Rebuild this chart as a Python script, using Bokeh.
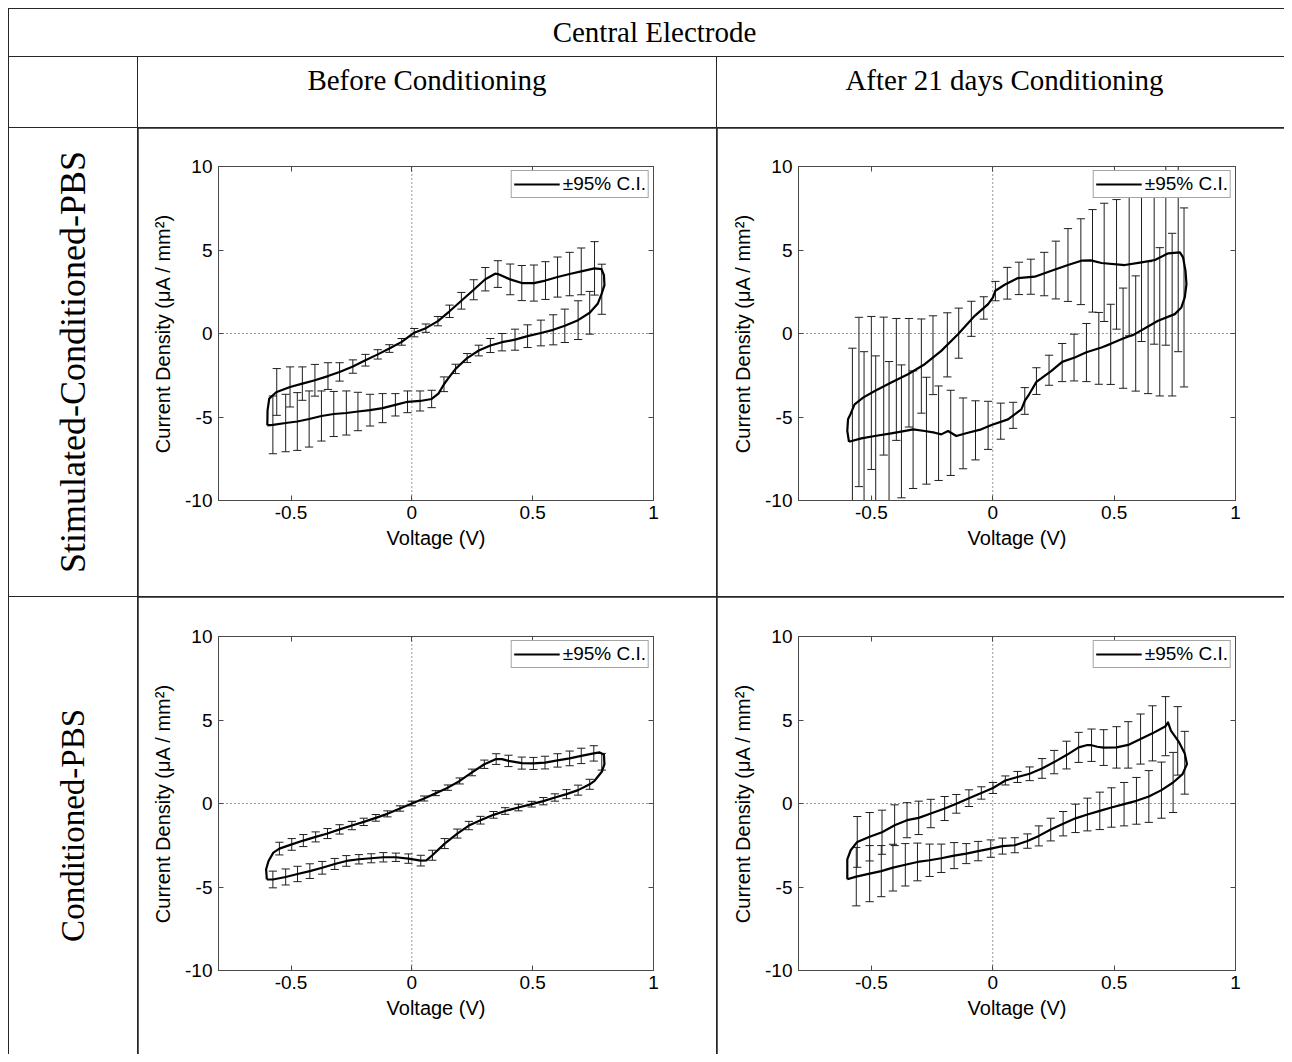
import numpy as np
from bokeh.plotting import figure
from bokeh.models import (Range1d, LinearAxis, FixedTicker, Span, Legend, LegendItem,
                          CustomJSTickFormatter, Div)
from bokeh.layouts import column, row
from bokeh.embed import file_html
from bokeh.resources import INLINE

# ---------------- text of the table ----------------
TITLE = "Central Electrode"
COL_HEADERS = ["Before Conditioning", "After 21 days Conditioning"]
ROW_HEADERS = ["Stimulated-Conditioned-PBS", "Conditioned-PBS"]
X_LABEL = "Voltage (V)"
Y_LABEL = "Current Density (\u03bcA / mm\u00b2)"
LEGEND_LABEL = "\u00b195% C.I."
X_TICKS = [-0.5, 0, 0.5, 1]
Y_TICKS = [-10, -5, 0, 5, 10]

# ---------------- top-left: Stimulated-Conditioned-PBS, before ----------------
TL_UP_V = [-0.598, -0.597, -0.590, -0.575, -0.559, -0.504, -0.453, -0.401, -0.347, -0.299, -0.244, -0.192,
           -0.141, -0.093, -0.042, 0.010, 0.058, 0.108, 0.156, 0.205, 0.256, 0.304, 0.345, 0.356, 0.407,
           0.455, 0.505, 0.553, 0.603, 0.653, 0.701, 0.756, 0.785, 0.795]
TL_UP_I = [-5.50, -4.60, -3.90, -3.70, -3.50, -3.20, -3.00, -2.80, -2.55, -2.30, -1.98, -1.60, -1.25, -0.90,
           -0.50, 0.05, 0.32, 0.74, 1.33, 1.96, 2.62, 3.25, 3.58, 3.56, 3.24, 3.02, 3.02, 3.17, 3.38, 3.56,
           3.72, 3.90, 3.85, 3.50]
TL_DN_V = [0.797, 0.786, 0.770, 0.736, 0.688, 0.633, 0.585, 0.534, 0.479, 0.427, 0.373, 0.325, 0.277, 0.229,
           0.181, 0.153, 0.133, 0.110, 0.082, 0.034, -0.018, -0.068, -0.121, -0.173, -0.223, -0.271, -0.323,
           -0.374, -0.425, -0.474, -0.522, -0.575, -0.598]
TL_DN_I = [2.90, 2.40, 1.80, 1.24, 0.80, 0.46, 0.22, 0.03, -0.16, -0.37, -0.52, -0.72, -1.02, -1.47, -2.12,
           -2.64, -3.04, -3.60, -3.92, -4.04, -4.09, -4.27, -4.47, -4.59, -4.67, -4.76, -4.82, -4.94, -5.12,
           -5.27, -5.36, -5.47, -5.50]
TL_BU_V = [-0.559, -0.504, -0.453, -0.401, -0.347, -0.299, -0.244, -0.192, -0.141, -0.093, -0.042, 0.010,
           0.058, 0.108, 0.156, 0.205, 0.256, 0.304, 0.356, 0.407, 0.455, 0.505, 0.553, 0.603, 0.653, 0.701, 0.756]
TL_BU_C = [-3.50, -3.20, -3.00, -2.80, -2.55, -2.30, -1.98, -1.60, -1.25, -0.90, -0.50, 0.05, 0.32, 0.74,
           1.33, 1.96, 2.62, 3.25, 3.56, 3.24, 3.02, 3.02, 3.17, 3.38, 3.56, 3.72, 3.90]
TL_BU_H = [1.40, 1.20, 1.00, 0.95, 0.80, 0.55, 0.40, 0.35, 0.28, 0.23, 0.20, 0.25, 0.25, 0.28, 0.37, 0.50,
           0.60, 0.70, 0.80, 0.92, 1.05, 1.08, 1.13, 1.20, 1.30, 1.40, 1.60]
TL_BD_V = [-0.575, -0.522, -0.474, -0.425, -0.374, -0.323, -0.271, -0.223, -0.173, -0.121, -0.068, -0.018,
           0.034, 0.082, 0.133, 0.181, 0.229, 0.277, 0.325, 0.373, 0.427, 0.479, 0.534, 0.585, 0.633, 0.688,
           0.736, 0.786]
TL_BD_C = [-5.47, -5.36, -5.27, -5.12, -4.94, -4.82, -4.76, -4.67, -4.59, -4.47, -4.27, -4.09, -4.04, -3.92,
           -3.04, -2.12, -1.47, -1.02, -0.72, -0.52, -0.37, -0.16, 0.03, 0.22, 0.46, 0.80, 1.24, 2.65]
TL_BD_H = [1.73, 1.72, 1.73, 1.68, 1.50, 1.35, 1.32, 1.15, 0.95, 0.87, 0.67, 0.65, 0.60, 0.52, 0.44, 0.28,
           0.27, 0.32, 0.42, 0.52, 0.63, 0.68, 0.77, 0.90, 1.00, 1.16, 1.28, 1.50]

# ---------------- top-right: Stimulated-Conditioned-PBS, after 21 days ----------------
TR_UP_V = [-0.592, -0.599, -0.596, -0.585, -0.569, -0.534, -0.486, -0.418, -0.349, -0.280, -0.212, -0.143,
           -0.074, -0.019, 0.001, 0.011, 0.049, 0.104, 0.173, 0.242, 0.310, 0.365, 0.404, 0.448, 0.544, 0.613,
           0.668, 0.723, 0.771, 0.784, 0.794, 0.798]
TR_UP_I = [-6.48, -5.84, -5.14, -4.80, -4.24, -3.84, -3.44, -2.94, -2.44, -1.84, -1.04, -0.04, 1.06, 1.76,
           2.16, 2.56, 2.92, 3.32, 3.40, 3.76, 4.10, 4.36, 4.38, 4.22, 4.10, 4.26, 4.40, 4.80, 4.86, 4.56,
           3.76, 2.96]
TR_DN_V = [0.791, 0.777, 0.750, 0.681, 0.585, 0.537, 0.486, 0.448, 0.386, 0.338, 0.286, 0.242, 0.180, 0.150,
           0.132, 0.118, 0.063, -0.005, -0.047, -0.102, -0.150, -0.184, -0.212, -0.239, -0.280, -0.328,
           -0.349, -0.418, -0.486, -0.541, -0.592]
TR_DN_I = [2.16, 1.56, 1.16, 0.76, -0.04, -0.30, -0.62, -0.84, -1.12, -1.44, -1.70, -2.24, -2.90, -3.64,
           -4.04, -4.54, -5.14, -5.48, -5.74, -5.94, -6.14, -5.84, -6.04, -5.94, -5.84, -5.74, -5.80, -5.98,
           -6.14, -6.28, -6.48]
TR_BU_V = [-0.551, -0.500, -0.449, -0.397, -0.345, -0.294, -0.246, -0.187, -0.140, -0.088, -0.037, 0.011,
           0.060, 0.108, 0.157, 0.212, 0.260, 0.310, 0.363, 0.411, 0.459, 0.510, 0.562, 0.613, 0.665, 0.713, 0.764]
TR_BU_C = [-4.10, -3.56, -3.15, -2.75, -2.35, -1.95, -1.30, -0.68, 0.02, 0.88, 1.53, 2.54, 3.01, 3.30, 3.40,
           3.56, 3.80, 4.10, 4.30, 4.35, 4.26, 4.14, 4.12, 4.22, 4.40, 4.80, 4.86]
TR_BU_H = [5.07, 4.58, 4.13, 3.65, 3.25, 2.82, 2.36, 1.92, 1.50, 1.05, 0.67, 0.58, 0.95, 0.97, 1.05, 1.30,
           1.73, 2.18, 2.57, 3.07, 3.54, 3.88, 4.26, 4.70, 5.04, 5.50, 5.95]
TR_BD_V = [-0.578, -0.530, -0.482, -0.427, -0.376, -0.328, -0.273, -0.223, -0.173, -0.122, -0.071, -0.019,
           0.033, 0.084, 0.132, 0.180, 0.232, 0.286, 0.335, 0.386, 0.437, 0.486, 0.537, 0.589, 0.640, 0.688,
           0.739, 0.788]
TR_BD_C = [-6.45, -6.35, -6.15, -5.98, -5.86, -5.76, -5.82, -5.97, -5.95, -5.98, -5.80, -5.50, -5.25, -4.90,
           -4.04, -2.85, -2.20, -1.74, -1.44, -1.14, -0.89, -0.65, -0.28, 0.00, 0.35, 0.70, 1.13, 2.16]
TR_BD_H = [5.57, 5.26, 4.81, 4.30, 3.98, 3.52, 3.20, 2.83, 2.55, 2.12, 1.77, 1.44, 1.08, 0.78, 0.80, 0.80,
           0.90, 1.14, 1.40, 1.74, 2.15, 2.40, 3.00, 3.45, 3.95, 4.44, 4.87, 5.36]

# ---------------- bottom-left: Conditioned-PBS, before ----------------
BL_UP_V = [-0.600, -0.603, -0.593, -0.573, -0.548, -0.497, -0.449, -0.398, -0.349, -0.299, -0.248, -0.199,
           -0.149, -0.101, -0.049, 0.000, 0.051, 0.099, 0.149, 0.198, 0.249, 0.300, 0.349, 0.373, 0.400,
           0.455, 0.503, 0.551, 0.603, 0.653, 0.701, 0.753, 0.777, 0.795, 0.797]
BL_UP_I = [-4.55, -3.94, -3.44, -2.94, -2.70, -2.45, -2.22, -2.00, -1.80, -1.55, -1.32, -1.10, -0.86, -0.62,
           -0.30, 0.00, 0.30, 0.62, 0.95, 1.35, 1.86, 2.35, 2.66, 2.66, 2.55, 2.42, 2.40, 2.45, 2.58, 2.70,
           2.85, 3.00, 3.06, 2.92, 2.36]
BL_DN_V = [0.786, 0.756, 0.736, 0.688, 0.640, 0.592, 0.544, 0.496, 0.441, 0.386, 0.338, 0.284, 0.236, 0.188,
           0.136, 0.085, 0.060, 0.037, -0.014, -0.066, -0.118, -0.168, -0.219, -0.271, -0.319, -0.371,
           -0.422, -0.473, -0.522, -0.575, -0.600]
BL_DN_I = [1.90, 1.36, 1.15, 0.80, 0.56, 0.36, 0.14, -0.04, -0.24, -0.45, -0.68, -1.00, -1.32, -1.80, -2.40,
           -3.10, -3.40, -3.42, -3.30, -3.22, -3.22, -3.28, -3.34, -3.44, -3.62, -3.85, -4.05, -4.22, -4.40,
           -4.55, -4.55]
BL_BU_V = [-0.548, -0.497, -0.449, -0.398, -0.349, -0.299, -0.248, -0.199, -0.149, -0.101, -0.049, 0.000,
           0.051, 0.099, 0.149, 0.198, 0.249, 0.300, 0.349, 0.400, 0.455, 0.503, 0.551, 0.603, 0.653, 0.701,
           0.753, 0.786]
BL_BU_C = [-2.70, -2.45, -2.22, -2.00, -1.80, -1.55, -1.32, -1.10, -0.86, -0.62, -0.30, 0.00, 0.30, 0.62,
           0.95, 1.35, 1.86, 2.35, 2.66, 2.55, 2.42, 2.40, 2.45, 2.58, 2.70, 2.85, 3.00, 2.50]
BL_BU_H = [0.38, 0.35, 0.36, 0.30, 0.30, 0.28, 0.25, 0.22, 0.20, 0.18, 0.16, 0.14, 0.15, 0.15, 0.16, 0.18,
           0.20, 0.25, 0.32, 0.34, 0.36, 0.36, 0.38, 0.40, 0.44, 0.46, 0.46, 0.50]
BL_BD_V = [-0.575, -0.522, -0.473, -0.422, -0.371, -0.319, -0.271, -0.219, -0.168, -0.118, -0.066, -0.014,
           0.037, 0.085, 0.136, 0.188, 0.236, 0.284, 0.338, 0.386, 0.441, 0.496, 0.544, 0.592, 0.640, 0.688, 0.736]
BL_BD_C = [-4.55, -4.40, -4.22, -4.05, -3.85, -3.62, -3.44, -3.34, -3.28, -3.22, -3.22, -3.30, -3.42, -3.10,
           -2.40, -1.80, -1.32, -1.00, -0.68, -0.45, -0.24, -0.04, 0.14, 0.36, 0.56, 0.80, 1.15]
BL_BD_H = [0.50, 0.48, 0.46, 0.44, 0.38, 0.33, 0.32, 0.28, 0.27, 0.28, 0.25, 0.28, 0.32, 0.30, 0.30, 0.27,
           0.25, 0.23, 0.20, 0.20, 0.20, 0.17, 0.22, 0.22, 0.27, 0.30, 0.30]

# ---------------- bottom-right: Conditioned-PBS, after 21 days ----------------
BR_UP_V = [-0.599, -0.599, -0.585, -0.558, -0.507, -0.456, -0.404, -0.353, -0.305, -0.255, -0.198, -0.150,
           -0.098, -0.047, 0.001, 0.052, 0.102, 0.152, 0.203, 0.253, 0.304, 0.354, 0.390, 0.407, 0.431, 0.457,
           0.510, 0.558, 0.609, 0.658, 0.712, 0.722, 0.734, 0.768, 0.791, 0.800]
BR_UP_I = [-4.54, -3.34, -2.80, -2.30, -1.99, -1.72, -1.30, -1.00, -0.86, -0.60, -0.30, -0.02, 0.32, 0.63,
           0.93, 1.38, 1.59, 1.78, 2.10, 2.48, 2.90, 3.36, 3.50, 3.49, 3.40, 3.35, 3.36, 3.51, 3.86, 4.20,
           4.63, 4.86, 4.36, 3.66, 3.00, 2.36]
BR_DN_V = [0.782, 0.743, 0.695, 0.643, 0.592, 0.541, 0.489, 0.441, 0.390, 0.341, 0.290, 0.239, 0.190, 0.143,
           0.091, 0.040, -0.008, -0.060, -0.109, -0.159, -0.212, -0.260, -0.310, -0.360, -0.411, -0.459,
           -0.507, -0.562, -0.599]
BR_DN_I = [1.76, 1.26, 0.80, 0.42, 0.16, -0.04, -0.24, -0.44, -0.66, -0.89, -1.21, -1.56, -1.94, -2.25,
           -2.50, -2.55, -2.70, -2.85, -3.00, -3.12, -3.28, -3.40, -3.50, -3.67, -3.84, -4.05, -4.20, -4.38, -4.54]
BR_BU_V = [-0.558, -0.507, -0.456, -0.404, -0.353, -0.305, -0.255, -0.198, -0.150, -0.098, -0.047, 0.001,
           0.052, 0.102, 0.152, 0.203, 0.253, 0.304, 0.354, 0.407, 0.457, 0.510, 0.558, 0.609, 0.658, 0.712,
           0.762, 0.791]
BR_BU_C = [-2.30, -1.99, -1.72, -1.30, -1.00, -0.86, -0.60, -0.30, -0.02, 0.32, 0.63, 0.93, 1.38, 1.59,
           1.78, 2.10, 2.48, 2.90, 3.36, 3.49, 3.35, 3.36, 3.51, 3.86, 4.20, 4.63, 3.75, 2.44]
BR_BU_H = [1.52, 1.45, 1.32, 1.22, 1.05, 1.00, 0.85, 0.72, 0.56, 0.50, 0.37, 0.33, 0.27, 0.33, 0.41, 0.59,
           0.70, 0.83, 0.90, 0.97, 1.07, 1.24, 1.39, 1.50, 1.65, 1.77, 2.05, 1.88]
BR_BD_V = [-0.562, -0.507, -0.459, -0.411, -0.360, -0.310, -0.260, -0.212, -0.159, -0.109, -0.060, -0.008,
           0.040, 0.091, 0.143, 0.190, 0.239, 0.290, 0.341, 0.390, 0.441, 0.489, 0.541, 0.592, 0.643, 0.695, 0.743]
BR_BD_C = [-4.38, -4.20, -4.05, -3.84, -3.67, -3.50, -3.40, -3.28, -3.12, -3.00, -2.85, -2.70, -2.55, -2.50,
           -2.25, -1.94, -1.56, -1.21, -0.89, -0.66, -0.44, -0.24, -0.04, 0.16, 0.42, 0.80, 1.26]
BR_BD_H = [1.75, 1.68, 1.53, 1.40, 1.27, 1.13, 0.97, 0.85, 0.78, 0.60, 0.58, 0.52, 0.48, 0.45, 0.43, 0.60,
           0.68, 0.73, 0.85, 0.98, 1.12, 1.18, 1.30, 1.40, 1.55, 1.68, 1.80]

# ---------------- styling ----------------
SERIF = "'Liberation Serif', 'Times New Roman', serif"
SANS = "Liberation Sans"
LINE_COL = "#262626"
FRAME_COL = "#4a4a4a"
CAP_HALF = 0.017   # half width of error-bar caps (volts, ~4px)


def header_cell(w, h, txt="", shift=0, top=9, size=29):
    html = ""
    if txt:
        html = (f'<div style="width:{w}px;margin:0;padding:{top}px 0 0 {2 * shift if shift > 0 else 0}px;'
                f'padding-right:{-2 * shift if shift < 0 else 0}px;box-sizing:border-box;text-align:center;'
                f'font-family:{SERIF};font-size:{size}px;line-height:{size}px;color:black;'
                f'white-space:nowrap;">{txt}</div>')
    return Div(text=html, width=w, height=h, margin=0,
               styles={"background-color": "white", "overflow": "hidden"})


def row_label_cell(w, h, txt, size):
    html = (f'<div style="width:{w}px;height:{h}px;display:flex;align-items:center;'
            f'justify-content:center;">'
            f'<span style="writing-mode:vertical-rl;transform:rotate(180deg);font-family:{SERIF};'
            f'font-size:{size}px;line-height:{size}px;color:black;white-space:nowrap;">{txt}</span></div>')
    return Div(text=html, width=w, height=h, margin=0,
               styles={"background-color": "white", "overflow": "hidden"})


def style_axis(ax):
    ax.axis_line_color = FRAME_COL
    ax.major_tick_line_color = FRAME_COL
    ax.major_tick_in = 5
    ax.major_tick_out = 0
    ax.minor_tick_line_color = None
    ax.major_label_text_font = SANS
    ax.major_label_text_font_size = "19px"
    ax.major_label_text_color = "black"
    ax.axis_label_text_font = SANS
    ax.axis_label_text_font_size = "20px"
    ax.axis_label_text_font_style = "normal"
    ax.axis_label_text_color = "black"


def cv_panel(w, h, bl, br, bt, bb, up_v, up_i, dn_v, dn_i, bu_v, bu_c, bu_h, bd_v, bd_c, bd_h):
    p = figure(width=w, height=h, x_range=Range1d(-0.8, 1.0), y_range=Range1d(-10, 10),
               toolbar_location=None, output_backend="svg",
               min_border_left=bl, min_border_right=br, min_border_top=bt, min_border_bottom=bb,
               x_axis_label=X_LABEL, y_axis_label=Y_LABEL)
    p.grid.visible = False
    p.background_fill_color = "white"
    p.border_fill_color = "white"
    p.outline_line_color = FRAME_COL
    p.xaxis.ticker = FixedTicker(ticks=X_TICKS)
    p.yaxis.ticker = FixedTicker(ticks=Y_TICKS)
    p.xaxis.formatter = CustomJSTickFormatter(code="return tick.toString()")
    p.yaxis.formatter = CustomJSTickFormatter(code="return tick.toString()")
    p.add_layout(LinearAxis(ticker=FixedTicker(ticks=X_TICKS),
                            formatter=CustomJSTickFormatter(code="return ''")), "above")
    p.add_layout(LinearAxis(ticker=FixedTicker(ticks=Y_TICKS),
                            formatter=CustomJSTickFormatter(code="return ''")), "right")
    for ax in p.axis:
        style_axis(ax)
    p.xaxis[0].major_label_standoff = 7
    p.xaxis[0].axis_label_standoff = 3
    p.yaxis[0].major_label_standoff = 6
    p.yaxis[0].axis_label_standoff = 8

    p.add_layout(Span(location=0, dimension="height", line_color="#333333", line_width=1,
                      line_dash="1 3", level="underlay"))
    p.add_layout(Span(location=0, dimension="width", line_color="#333333", line_width=1,
                      line_dash="1 3", level="underlay"))

    # error bars (±95% C.I.)
    for v, c, hh in ((bu_v, bu_c, bu_h), (bd_v, bd_c, bd_h)):
        v = np.asarray(v); c = np.asarray(c); hh = np.asarray(hh)
        lo, hi = c - hh, c + hh
        p.segment(x0=v, y0=lo, x1=v, y1=hi, line_color="#1e1e1e", line_width=1)
        p.segment(x0=v - CAP_HALF, y0=hi, x1=v + CAP_HALF, y1=hi, line_color="#1e1e1e", line_width=1)
        p.segment(x0=v - CAP_HALF, y0=lo, x1=v + CAP_HALF, y1=lo, line_color="#1e1e1e", line_width=1)

    # cyclic voltammogram loop
    loop_v = list(up_v) + list(dn_v)
    loop_i = list(up_i) + list(dn_i)
    r = p.line(loop_v, loop_i, line_color="black", line_width=2.2, line_join="round")

    leg = Legend(items=[LegendItem(label=LEGEND_LABEL, renderers=[r])], location="top_right",
                 border_line_color=FRAME_COL, border_line_width=1, background_fill_color="white",
                 background_fill_alpha=1.0, label_text_font=SANS, label_text_font_size="19px",
                 label_text_color="black", glyph_width=46, glyph_height=16, label_height=16,
                 label_standoff=3, padding=2, margin=4, spacing=0)
    p.add_layout(leg)
    return p


# ---------------- table geometry (pixels) ----------------
W0, W1, W2 = 128, 578, 567
H_TITLE, H_HEAD, H_R1, H_R2 = 47, 70, 468, 457

title = header_cell(W0 + W1 + W2 + 2, H_TITLE, TITLE, shift=8)
head0 = header_cell(W0, H_HEAD)
head1 = header_cell(W1, H_HEAD, COL_HEADERS[0], shift=0)
head2 = header_cell(W2, H_HEAD, COL_HEADERS[1], shift=4)
lab1 = row_label_cell(W0, H_R1, ROW_HEADERS[0], 36)
lab2 = row_label_cell(W0, H_R2, ROW_HEADERS[1], 33)

p_tl = cv_panel(W1, H_R1, 80, 63, 38, 96, TL_UP_V, TL_UP_I, TL_DN_V, TL_DN_I,
                TL_BU_V, TL_BU_C, TL_BU_H, TL_BD_V, TL_BD_C, TL_BD_H)
p_tr = cv_panel(W2, H_R1, 81, 49, 38, 96, TR_UP_V, TR_UP_I, TR_DN_V, TR_DN_I,
                TR_BU_V, TR_BU_C, TR_BU_H, TR_BD_V, TR_BD_C, TR_BD_H)
p_bl = cv_panel(W1, H_R2, 80, 63, 39, 84, BL_UP_V, BL_UP_I, BL_DN_V, BL_DN_I,
                BL_BU_V, BL_BU_C, BL_BU_H, BL_BD_V, BL_BD_C, BL_BD_H)
p_br = cv_panel(W2, H_R2, 81, 49, 39, 84, BR_UP_V, BR_UP_I, BR_DN_V, BR_DN_I,
                BR_BU_V, BR_BU_C, BR_BU_H, BR_BD_V, BR_BD_C, BR_BD_H)

layout = column(
    title,
    row(head0, head1, head2, spacing=1),
    row(lab1, p_tl, p_tr, spacing=1),
    row(lab2, p_bl, p_br, spacing=1),
    spacing=1,
    styles={"background-color": LINE_COL, "padding": "1px 0px 0px 1px",
            "margin-left": "8px", "margin-top": "8px"},
)

open("out.html", "w").write(file_html(layout, INLINE))
